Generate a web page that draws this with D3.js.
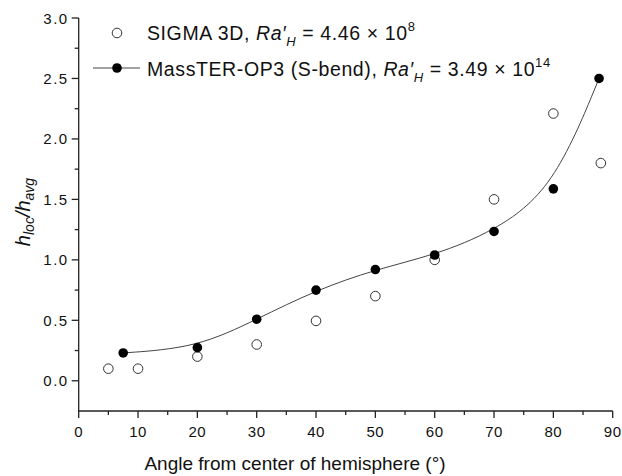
<!DOCTYPE html>
<html><head><meta charset="utf-8">
<script src="https://cdn.jsdelivr.net/npm/d3@7"></script>
<style>body{margin:0;background:#fff}svg{display:block}text{font-family:Arial,"Liberation Sans",sans-serif;fill:#111}</style>
</head><body>
<svg id="c" width="622" height="476"></svg>
<script>
const sigmaX = [5, 10, 20, 30, 40, 50, 60, 70, 80, 88];
const sigmaY = [0.10, 0.10, 0.20, 0.30, 0.495, 0.70, 1.00, 1.50, 2.21, 1.80];
const massX = [7.5, 20, 30, 40, 50, 60, 70, 80, 87.7];
const massY = [0.23, 0.274, 0.509, 0.75, 0.92, 1.04, 1.235, 1.587, 2.50];
const xTicks = [0, 10, 20, 30, 40, 50, 60, 70, 80, 90];
const yTicks = [0.0, 0.5, 1.0, 1.5, 2.0, 2.5, 3.0];

const svg = d3.select("#c");
const x = d3.scaleLinear().domain([0, 90]).range([78.7, 612.7]);
const y = d3.scaleLinear().domain([-0.25, 3.0]).range([411, 18]);
const axCol = "#222";

// x axis
const xMinor = d3.range(0, 91, 5);
const gx = svg.append("g").attr("transform", "translate(0,411)");
gx.append("line").attr("x1", x(0)).attr("x2", x(90)).attr("stroke", axCol).attr("stroke-width", 1.3);
gx.selectAll(".mt").data(xMinor).join("line")
  .attr("x1", d => x(d)).attr("x2", d => x(d)).attr("y1", 0)
  .attr("y2", d => d % 10 === 0 ? 7 : 4).attr("stroke", axCol).attr("stroke-width", 1.3);
gx.selectAll("text").data(xTicks).join("text")
  .attr("x", d => x(d)).attr("y", 26).attr("text-anchor", "middle")
  .attr("font-size", 15).attr("letter-spacing", 0.5).text(d => d);

// y axis
const yMinor = d3.range(-0.25, 3.001, 0.25);
const gy = svg.append("g").attr("transform", "translate(78.7,0)");
gy.append("line").attr("y1", y(-0.25)).attr("y2", y(3.0)).attr("stroke", axCol).attr("stroke-width", 1.3);
gy.selectAll("line.t").data(yMinor.slice(1)).join("line").attr("class", "t")
  .attr("y1", d => y(d)).attr("y2", d => y(d)).attr("x1", 0)
  .attr("x2", d => Math.abs(d * 2 - Math.round(d * 2)) < 1e-6 ? -7 : -4)
  .attr("stroke", axCol).attr("stroke-width", 1.3);
gy.selectAll("text").data(yTicks).join("text")
  .attr("x", -10).attr("y", d => y(d) + 5.5).attr("text-anchor", "end")
  .attr("font-size", 15).attr("letter-spacing", 1.5).text(d => d.toFixed(1));

// axis titles
svg.append("text").attr("x", 295).attr("y", 470).attr("text-anchor", "middle")
  .attr("font-size", 19).text("Angle from center of hemisphere (°)");
const yl = svg.append("text").attr("transform", "translate(30,212) rotate(-90)")
  .attr("text-anchor", "middle").attr("font-size", 20).attr("font-style", "italic");
yl.append("tspan").text("h");
yl.append("tspan").attr("font-size", 14).attr("dy", 4).text("loc");
yl.append("tspan").attr("dy", -4).text("/h");
yl.append("tspan").attr("font-size", 14).attr("dy", 4).text("avg");

// curve
const massPts = massX.map((d, i) => [d, massY[i]]);
svg.append("path").datum(massPts)
  .attr("d", d3.line().x(d => x(d[0])).y(d => y(d[1])).curve(d3.curveBasis))
  .attr("fill", "none").attr("stroke", "#444").attr("stroke-width", 1);

// sigma points
svg.selectAll(".s").data(sigmaX.map((d, i) => [d, sigmaY[i]])).join("circle")
  .attr("cx", d => x(d[0])).attr("cy", d => y(d[1])).attr("r", 4.8)
  .attr("fill", "#fff").attr("stroke", "#333").attr("stroke-width", 1);
svg.selectAll(".m").data(massPts).join("circle")
  .attr("cx", d => x(d[0])).attr("cy", d => y(d[1])).attr("r", 4.8)
  .attr("fill", "#000");

// legend
svg.append("circle").attr("cx", 117).attr("cy", 33).attr("r", 4.8)
  .attr("fill", "#fff").attr("stroke", "#333").attr("stroke-width", 1);
svg.append("line").attr("x1", 93).attr("x2", 140).attr("y1", 68).attr("y2", 68)
  .attr("stroke", "#444").attr("stroke-width", 1);
svg.append("circle").attr("cx", 117).attr("cy", 68).attr("r", 4.8).attr("fill", "#000");

function legendText(yy, label, num, exp) {
  const t = svg.append("text").attr("x", 147).attr("y", yy).attr("font-size", 19.5)
    .attr("letter-spacing", 0.6);
  t.append("tspan").text(label + ", ");
  t.append("tspan").attr("font-style", "italic").text("Ra′");
  t.append("tspan").attr("font-style", "italic").attr("font-size", 13).attr("dy", 6).text("H");
  t.append("tspan").attr("dy", -6).text(" = " + num + " × 10");
  t.append("tspan").attr("font-size", 13).attr("dy", -9).text(exp);
}
legendText(39.5, "SIGMA 3D", "4.46", "8");
legendText(76, "MassTER-OP3 (S-bend)", "3.49", "14");
</script>
</body></html>
